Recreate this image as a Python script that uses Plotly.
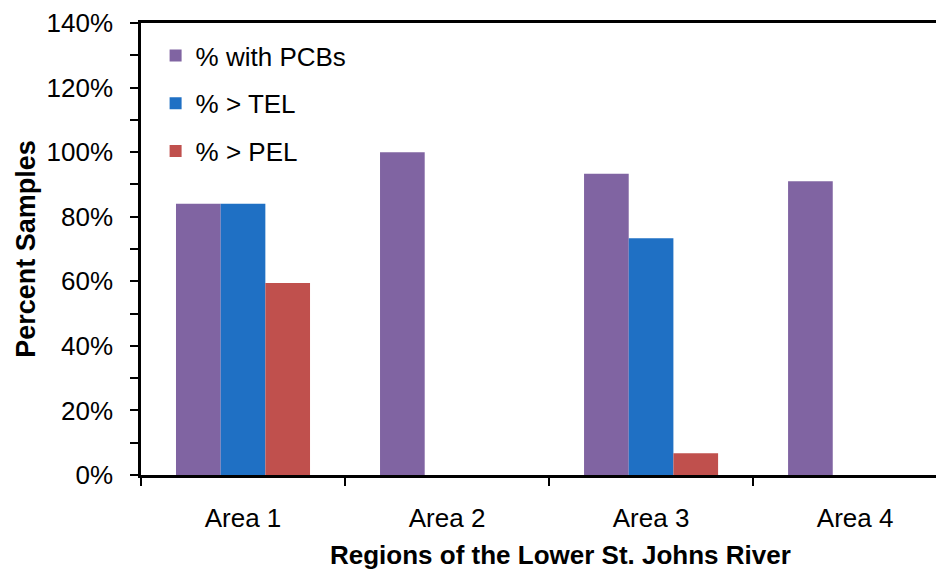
import plotly.graph_objects as go

# data
areas = ["Area 1", "Area 2", "Area 3", "Area 4"]
pct_pcbs = [84, 100, 93.3, 91]
pct_tel = [84, 0, 73.3, 0]
pct_pel = [59.5, 0, 6.7, 0]

series_names = ["% with PCBs", "% > TEL", "% > PEL"]
colors = ["#8064A2", "#1F70C4", "#C0504D"]

font_family = "Liberation Sans, Arial, sans-serif"

fig = go.Figure()
for i, (name, vals, col) in enumerate(zip(series_names, [pct_pcbs, pct_tel, pct_pel], colors)):
    fig.add_trace(go.Bar(x=areas, y=vals, name=name, marker_color=col,
                         marker_line_width=0, legendgroup=str(i)))

fig.update_layout(
    width=944, height=572,
    margin=dict(l=133, r=0, t=12, b=105),
    paper_bgcolor="white", plot_bgcolor="white",
    font=dict(family=font_family, size=26, color="black"),
    barmode="group", bargap=0.343, bargroupgap=0,
    showlegend=True,
    legend=dict(x=0.018, y=0.98, xanchor="left", yanchor="top",
                font=dict(size=26), tracegroupgap=11,
                bgcolor="rgba(0,0,0,0)"),
)

# x title as annotation (the reference centres it off the truncated plot)
fig.add_annotation(text="<b>Regions of the Lower St. Johns River</b>",
                   xref="paper", yref="paper", x=0.517, y=0,
                   xanchor="center", yanchor="middle", yshift=-80,
                   showarrow=False, font=dict(size=26))

fig.update_xaxes(
    range=[-0.5, 3.475],
    showline=True, linecolor="black", linewidth=2.5, mirror=True,
    ticks="outside", tickson="boundaries", ticklen=8, tickwidth=2, tickcolor="black",
    ticklabelstandoff=18,
    showgrid=False,
)
fig.update_yaxes(
    range=[0, 140], dtick=20, ticksuffix="%",
    showline=True, linecolor="black", linewidth=2.5,
    ticks="outside", ticklen=8, tickwidth=2, tickcolor="black",
    minor=dict(dtick=10, ticks="outside", ticklen=8, tickwidth=2, tickcolor="black"),
    ticklabelstandoff=12, ticklabeloverflow="allow",
    title=dict(text="<b>Percent Samples</b>", standoff=4, font=dict(size=27)),
    showgrid=False, zeroline=False,
)

fig.write_html("out.html")
